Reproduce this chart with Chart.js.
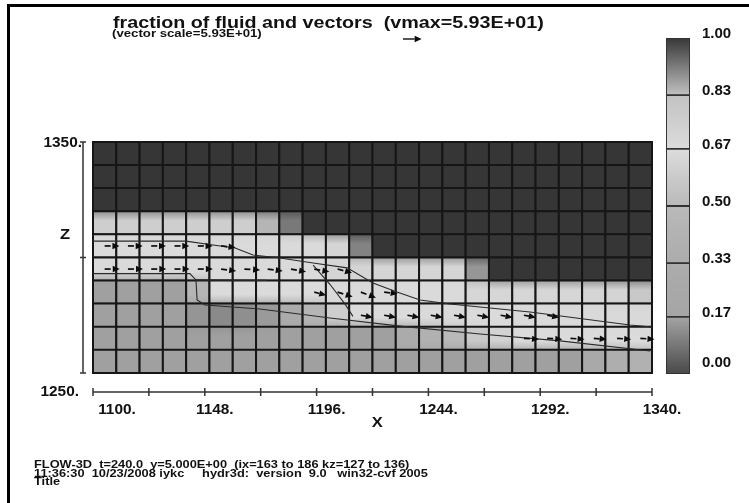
<!DOCTYPE html>
<html>
<head>
<meta charset="utf-8">
<script src="https://cdn.jsdelivr.net/npm/chart.js@4.4.1/dist/chart.umd.min.js"></script>
<style>
  html, body { margin: 0; padding: 0; background: #fff; }
  #wrap { position: relative; width: 749px; height: 503px; overflow: hidden; background: #fff;
          font-family: "Liberation Sans", Arial, sans-serif; font-weight: bold; color: #111; }
  #frameL { position: absolute; left: 7px; top: 4px; width: 3px; height: 520px; background: #000; }
  #frameT { position: absolute; left: 7px; top: 4px; width: 760px; height: 3px; background: #000; }
  .wide { position: absolute; white-space: pre; transform-origin: 0 0; }
  #title { left: 113px; top: 12.5px; font-size: 17px; transform: scaleX(1.16); }
  #sub { left: 112px; top: 27px; font-size: 11px; transform: scaleX(1.2); }
  #footer { left: 34px; top: 460px; font-size: 10.5px; line-height: 8.6px; transform: scaleX(1.22); }
  #main { position: absolute; left: 0; top: 0; width: 749px; height: 503px; }
  #bar { position: absolute; left: 666px; top: 17px; width: 83px; height: 378px; }
</style>
</head>
<body>
<div id="wrap">
  <div id="main"><canvas id="flow"></canvas></div>
  <div id="bar"><canvas id="scale"></canvas></div>
  <div id="frameL"></div>
  <div id="frameT"></div>
  <div id="title" class="wide">fraction of fluid and vectors  (vmax=5.93E+01)</div>
  <div id="sub" class="wide">(vector scale=5.93E+01)</div>
  <div id="footer" class="wide">FLOW-3D  t=240.0  y=5.000E+00  (ix=163 to 186 kz=127 to 136)
11:36:30  10/23/2008 iykc     hydr3d:  version  9.0   win32-cvf 2005
Title</div>
</div>
<script>
// cell centres (x, z) of the 24 x 10 mesh
const cellX = [1105, 1115, 1125, 1135, 1145, 1155, 1165, 1175, 1185, 1195, 1205, 1215,
               1225, 1235, 1245, 1255, 1265, 1275, 1285, 1295, 1305, 1315, 1325, 1335];
const cellZ = [1345, 1335, 1325, 1315, 1305, 1295, 1285, 1275, 1265, 1255];
const cellSize = 10;

// fraction of fluid, one row per z (top row first)
const fraction = [
  [1,1,1,1,1,1,1,1,1,1,1,1,1,1,1,1,1,1,1,1,1,1,1,1],
  [1,1,1,1,1,1,1,1,1,1,1,1,1,1,1,1,1,1,1,1,1,1,1,1],
  [1,1,1,1,1,1,1,1,1,1,1,1,1,1,1,1,1,1,1,1,1,1,1,1],
  [0.81,0.81,0.81,0.81,0.81,0.81,0.81,0.85,0.93,1,1,1,1,1,1,1,1,1,1,1,1,1,1,1],
  [0.7,0.7,0.7,0.7,0.7,0.7,0.7,0.7,0.7,0.7,0.78,0.92,1,1,1,1,1,1,1,1,1,1,1,1],
  [0.66,0.66,0.66,0.66,0.66,0.7,0.7,0.7,0.7,0.7,0.78,0.78,0.78,0.78,0.78,0.78,0.9,1,1,1,1,1,1,1],
  [0.16,0.16,0.16,0.16,0.45,0.68,0.68,0.68,0.68,0.68,0.7,0.7,0.7,0.7,0.7,0.7,0.76,0.76,0.76,0.76,0.77,0.78,0.8,0.82],
  [0.16,0.16,0.16,0.16,0.14,0.12,0.13,0.15,0.3,0.45,0.6,0.66,0.68,0.68,0.7,0.7,0.7,0.7,0.7,0.7,0.72,0.72,0.72,0.72],
  [0.16,0.16,0.16,0.16,0.16,0.16,0.16,0.16,0.16,0.16,0.16,0.16,0.16,0.3,0.4,0.5,0.58,0.62,0.68,0.68,0.68,0.68,0.68,0.68],
  [0.16,0.16,0.16,0.16,0.16,0.16,0.16,0.16,0.16,0.16,0.16,0.16,0.16,0.16,0.16,0.16,0.16,0.16,0.16,0.16,0.16,0.25,0.35,0.4]
];

// velocity vectors: tail at cell centre, components u (x) and w (z)
const vecX = [1105,1115,1125,1135,1145,1155,
              1105,1115,1125,1135,1145,1155,1165,1175,1185,1195,1205,
              1195,1205,1215,1225,
              1215,1225,1235,1245,1255,1265,1275,1285,1295,
              1285,1295,1305,1315,1325,1335];
const vecZ = [1305,1305,1305,1305,1305,1305,
              1295,1295,1295,1295,1295,1295,1295,1295,1295,1295,1295,
              1285,1285,1285,1285,
              1275,1275,1275,1275,1275,1275,1275,1275,1275,
              1265,1265,1265,1265,1265,1265];
const vecU = [47,47,47,47,47,46,
              48,48,48,48,48,48,50,48,48,48,46,
              38,48,48,43,
              38,38,38,38,38,38,38,38,38,
              48,48,45,41,45,45];
const vecW = [0,0,0,0,0,-5,
              0,0,0,0,0,-6,-3,-6,-9,-9,-12,
              -10,-15,-18,-5,
              -7,-7,-7,-7,-7,-7,-7,-7,-7,
              -3,-3,-3,-3,-3,-3];
const vmax = 59.3;

// interface (contour) lines
const surfaceTop = [
  {x:1100,y:1307.1},{x:1139.9,y:1307.1},{x:1151.5,y:1305.4},{x:1161,y:1304.1},{x:1168.7,y:1301.1},
  {x:1180.3,y:1299.8},{x:1194.5,y:1297.6},{x:1209.1,y:1295.5},{x:1220.2,y:1289},{x:1230.5,y:1285.1},
  {x:1240.4,y:1281.6},{x:1253.3,y:1279.9},{x:1287.6,y:1276.4},{x:1330.6,y:1270.8},{x:1340,y:1269.9}
];
const surfaceBottom = [
  {x:1100,y:1293},{x:1141.6,y:1293},{x:1144.2,y:1290.3},{x:1144.7,y:1281.6},{x:1148.1,y:1279.4},
  {x:1171.7,y:1277.7},{x:1201.8,y:1273.8},{x:1231.8,y:1270.3},{x:1266.2,y:1266.9},{x:1300.5,y:1263.9},
  {x:1339.2,y:1259.5}
];
const jetUnderside = [{x:1144.2,y:1290.3},{x:1174.7,y:1290.1}];
const plunge = [{x:1194.5,y:1296.7},{x:1201.8,y:1288.3},{x:1208.3,y:1279.7},{x:1211.6,y:1274.5}];

// axis ticks and labels
const xTicks = [1100,1124,1148,1172,1196,1220,1244,1268,1292,1316,1340];
const xLabels = [1100,1148,1196,1244,1292,1340];
const zTicks = [1250,1300,1350];
const barTicks = [0, 0.17, 0.33, 0.5, 0.67, 0.83, 1.0];

// grey version of the rainbow colour table
const grayStops = [[0,72],[0.17,165],[0.33,172],[0.5,185],[0.67,220],[0.8,212],[0.9,150],[1,54]];
function grayOf(v) {
  for (let i = 1; i < grayStops.length; i++) {
    if (v <= grayStops[i][0]) {
      const [v0, g0] = grayStops[i - 1], [v1, g1] = grayStops[i];
      return Math.round(g0 + (g1 - g0) * (v - v0) / (v1 - v0));
    }
  }
  return 54;
}
function grayCss(g) {
  return `rgb(${g},${g},${g})`;
}
function colormap(v) {
  return grayCss(grayOf(v));
}

const cells = [];
cellZ.forEach((z, r) => cellX.forEach((x, c) => cells.push({ x: x, y: z, r: r, c: c, v: fraction[r][c] })));

// shade a cell towards its upper and lower neighbours, darkening only
function cellFill(ctx) {
  const p = ctx.raw;
  if (!p) return colormap(1);
  const chart = ctx.chart;
  if (!chart.chartArea || p.v >= 0.97) return colormap(p.v);
  const ys = chart.scales.y;
  const self = grayOf(p.v);
  const up = p.r > 0 ? fraction[p.r - 1][p.c] : p.v;
  const down = p.r < cellZ.length - 1 ? fraction[p.r + 1][p.c] : p.v;
  const top = ys.getPixelForValue(p.y + cellSize / 2);
  const bottom = ys.getPixelForValue(p.y - cellSize / 2);
  const g = chart.ctx.createLinearGradient(0, top, 0, bottom);
  g.addColorStop(0, grayCss(Math.min(self, grayOf((up + p.v) / 2))));
  g.addColorStop(0.4, grayCss(self));
  g.addColorStop(0.6, grayCss(self));
  g.addColorStop(1, grayCss(Math.min(self, grayOf((down + p.v) / 2))));
  return g;
}

function drawArrow(ctx, x0, y0, x1, y1, dashed) {
  const a = Math.atan2(y1 - y0, x1 - x0);
  const hl = 7, hw = 3.2;
  const bx = x1 - hl * Math.cos(a), by = y1 - hl * Math.sin(a);
  ctx.setLineDash(dashed ? [6, 3] : []);
  ctx.beginPath(); ctx.moveTo(x0, y0); ctx.lineTo(bx, by); ctx.stroke();
  ctx.setLineDash([]);
  ctx.beginPath();
  ctx.moveTo(x1, y1);
  ctx.lineTo(bx - hw * Math.sin(a), by + hw * Math.cos(a));
  ctx.lineTo(bx + hw * Math.sin(a), by - hw * Math.cos(a));
  ctx.closePath(); ctx.fill();
}

const vectorPlugin = {
  id: 'vectors',
  afterDatasetsDraw(chart) {
    const { ctx, scales: { x, y } } = chart;
    ctx.save();
    ctx.strokeStyle = '#0c0c0c';
    ctx.fillStyle = '#0c0c0c';
    ctx.lineWidth = 1.7;
    const k = 8 / vmax;
    vecX.forEach((vx, i) => {
      drawArrow(ctx, x.getPixelForValue(vx), y.getPixelForValue(vecZ[i]),
        x.getPixelForValue(vx + vecU[i] * k), y.getPixelForValue(vecZ[i] + vecW[i] * k), true);
    });
    // vector scale arrow under the title
    const len = x.getPixelForValue(1100 + vmax * k) - x.getPixelForValue(1100);
    ctx.lineWidth = 1.4;
    drawArrow(ctx, 403, 39, 403 + len, 39, false);
    ctx.restore();
  }
};

function wideText(ctx, text, px, py, align, stretch) {
  ctx.save();
  ctx.translate(px, py);
  ctx.scale(stretch, 1);
  ctx.textAlign = align;
  ctx.fillText(text, 0, 0);
  ctx.restore();
}

const axesPlugin = {
  id: 'flowAxes',
  afterDraw(chart) {
    const { ctx, scales: { x, y } } = chart;
    const zx = x.left - 10;
    const ax = y.bottom + 19;
    ctx.save();
    ctx.strokeStyle = '#333';
    ctx.fillStyle = '#111';
    ctx.lineWidth = 1.5;
    // z axis
    ctx.beginPath();
    ctx.moveTo(zx, y.getPixelForValue(1350));
    ctx.lineTo(zx, y.getPixelForValue(1250));
    zTicks.forEach(t => {
      const py = y.getPixelForValue(t);
      ctx.moveTo(zx - 3, py); ctx.lineTo(zx + 3, py);
    });
    // x axis
    ctx.moveTo(x.getPixelForValue(1100), ax);
    ctx.lineTo(x.getPixelForValue(1340), ax);
    xTicks.forEach(t => {
      const px = x.getPixelForValue(t);
      ctx.moveTo(px, ax - 4); ctx.lineTo(px, ax + 4);
    });
    ctx.stroke();

    ctx.font = 'bold 14px "Liberation Sans", Arial, sans-serif';
    ctx.textBaseline = 'middle';
    wideText(ctx, '1350.', zx - 1, y.getPixelForValue(1350) + 1, 'right', 1.1);
    wideText(ctx, '1250.', zx - 4, ax, 'right', 1.1);
    xLabels.forEach(t => {
      const off = t === 1100 ? 24 : 10;
      wideText(ctx, t + '.', x.getPixelForValue(t) + off, ax + 18, 'center', 1.1);
    });
    ctx.font = 'bold 15px "Liberation Sans", Arial, sans-serif';
    wideText(ctx, 'Z', 65, y.getPixelForValue(1310), 'center', 1.1);
    wideText(ctx, 'X', x.getPixelForValue(1222), ax + 31, 'center', 1.1);
    ctx.restore();
  }
};

const contour = data => ({
  type: 'line',
  data: data,
  borderColor: '#2a2a2a',
  borderWidth: 1.1,
  pointRadius: 0,
  fill: false,
  order: 2
});

new Chart(document.getElementById('flow'), {
  type: 'scatter',
  data: {
    datasets: [{
      data: cells,
      pointStyle: 'rect',
      pointRadius: ctx => {
        const s = ctx.chart.scales.x;
        return (s.getPixelForValue(1100 + cellSize) - s.getPixelForValue(1100)) / Math.SQRT2;
      },
      backgroundColor: cellFill,
      borderColor: '#161616',
      borderWidth: 2,
      clip: false,
      order: 3
    },
    contour(surfaceTop),
    contour(surfaceBottom),
    contour(jetUnderside),
    contour(plunge)]
  },
  options: {
    responsive: true,
    maintainAspectRatio: false,
    animation: false,
    events: [],
    layout: { padding: { left: 93, top: 142, right: 97, bottom: 130 } },
    plugins: { legend: { display: false }, tooltip: { enabled: false } },
    scales: {
      x: { type: 'linear', min: 1100, max: 1340, display: false },
      y: { type: 'linear', min: 1250, max: 1350, display: false }
    }
  },
  plugins: [vectorPlugin, axesPlugin]
});

// colour bar
const bands = barTicks.slice(0, -1).map((lo, i) => [lo, barTicks[i + 1]]);
new Chart(document.getElementById('scale'), {
  type: 'bar',
  data: {
    labels: [''],
    datasets: bands.map(b => ({
      data: [b],
      grouped: false,
      barPercentage: 1,
      categoryPercentage: 1,
      borderColor: '#333',
      borderWidth: 1.3,
      borderSkipped: false,
      backgroundColor: ctx => {
        const chart = ctx.chart;
        if (!chart.chartArea) return colormap((b[0] + b[1]) / 2);
        const ys = chart.scales.y;
        const g = chart.ctx.createLinearGradient(0, ys.getPixelForValue(b[0]), 0, ys.getPixelForValue(b[1]));
        g.addColorStop(0, colormap(b[0] + 0.001));
        g.addColorStop(1, colormap(b[1] - 0.001));
        return g;
      }
    }))
  },
  options: {
    responsive: true,
    maintainAspectRatio: false,
    animation: false,
    events: [],
    layout: { padding: 0 },
    plugins: { legend: { display: false }, tooltip: { enabled: false } },
    scales: {
      x: { display: false },
      y: {
        position: 'right',
        min: 0, max: 1,
        grid: { display: false, drawTicks: false },
        border: { display: false },
        afterBuildTicks: scale => {
          // the bottom label sits a little above the end of the bar
          scale.ticks = barTicks.map(v => ({ value: v === 0 ? 0.02 : v }));
        },
        afterFit: scale => { scale.width = 59; },
        ticks: {
          padding: 12,
          labelOffset: -4,
          color: '#111',
          font: { family: '"Liberation Sans", Arial, sans-serif', weight: 'bold', size: 15 },
          callback: (v, i) => barTicks[i].toFixed(2)
        }
      }
    }
  }
});
</script>
</body>
</html>
